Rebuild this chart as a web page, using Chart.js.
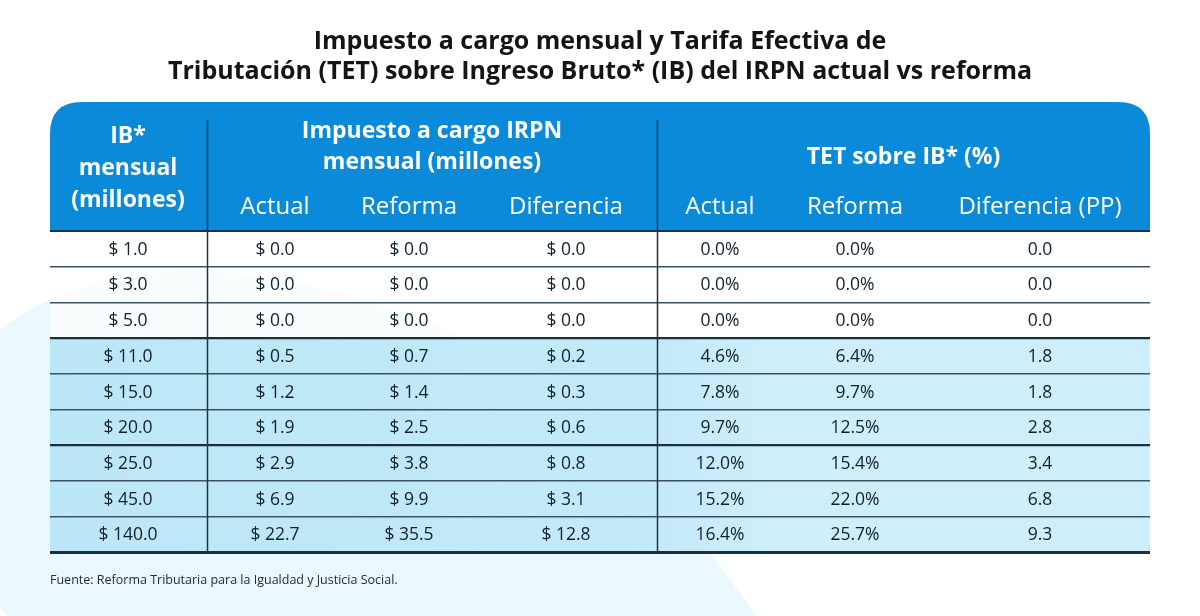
<!DOCTYPE html>
<html lang="es">
<head>
  <meta charset="UTF-8">
  <title>Impuesto a cargo mensual y TET</title>
  <style>
    html, body { margin: 0; padding: 0; background: #ffffff; }
    #tabla { display: block; }
  </style>
</head>
<body>
  <canvas id="tabla" width="1200" height="616"></canvas>
  <script src="https://cdn.jsdelivr.net/npm/chart.js"></script>
  <script>
    // datos de la tabla (millones y %)
    const ibMensual = [1.0, 3.0, 5.0, 11.0, 15.0, 20.0, 25.0, 45.0, 140.0];
    const impActual = [0.0, 0.0, 0.0, 0.5, 1.2, 1.9, 2.9, 6.9, 22.7];
    const impReforma = [0.0, 0.0, 0.0, 0.7, 1.4, 2.5, 3.8, 9.9, 35.5];
    const impDiferencia = [0.0, 0.0, 0.0, 0.2, 0.3, 0.6, 0.8, 3.1, 12.8];
    const tetActual = [0.0, 0.0, 0.0, 4.6, 7.8, 9.7, 12.0, 15.2, 16.4];
    const tetReforma = [0.0, 0.0, 0.0, 6.4, 9.7, 12.5, 15.4, 22.0, 25.7];
    const tetDiferencia = [0.0, 0.0, 0.0, 1.8, 1.8, 2.8, 3.4, 6.8, 9.3];

    const subHeaders = ['Actual', 'Reforma', 'Diferencia', 'Actual', 'Reforma', 'Diferencia (PP)'];
    const fuente = 'Fuente: Reforma Tributaria para la Igualdad y Justicia Social.';

    const peso = v => '$ ' + v.toFixed(1);
    const pct = v => v.toFixed(1) + '%';
    const num = v => v.toFixed(1);

    const columnas = [
      { valores: ibMensual, fmt: peso },
      { valores: impActual, fmt: peso },
      { valores: impReforma, fmt: peso },
      { valores: impDiferencia, fmt: peso },
      { valores: tetActual, fmt: pct },
      { valores: tetReforma, fmt: pct },
      { valores: tetDiferencia, fmt: num }
    ];

    // eje x en "unidades de ancho" de la tabla: 0..1100
    const ANCHO = 1100;
    const centros = [78, 225, 359, 516, 670, 805, 990];
    const divisores = [157, 607];

    const etiquetas = ibMensual.map(peso);
    const sombreada = impActual.map(v => v > 0);

    const FONT = '"Open Sans", "Noto Sans", sans-serif';
    const AZUL = '#0a8ad8';
    const LINEA = '#1c3344';

    const fondo = {
      id: 'fondo',
      beforeDraw(chart) {
        const ctx = chart.ctx;
        ctx.save();
        ctx.fillStyle = '#ffffff';
        ctx.fillRect(0, 0, chart.width, chart.height);
        ctx.fillStyle = '#eaf7fc';
        ctx.beginPath();
        ctx.moveTo(0, 330);
        ctx.bezierCurveTo(60, 282, 150, 262, 250, 275);
        ctx.bezierCurveTo(420, 300, 560, 375, 640, 465);
        ctx.bezierCurveTo(700, 540, 740, 590, 755, 616);
        ctx.lineTo(14, 616);
        ctx.quadraticCurveTo(0, 616, 0, 602);
        ctx.closePath();
        ctx.fill();
        ctx.restore();
      }
    };

    const tabla = {
      id: 'tabla',
      afterDraw(chart) {
        const ctx = chart.ctx;
        const xs = chart.scales.x;
        const ys = chart.scales.y;
        const area = chart.chartArea;
        const top = area.top - 129;
        const r = 32;

        ctx.save();
        // cabecera azul con esquinas superiores redondeadas
        ctx.fillStyle = AZUL;
        ctx.beginPath();
        ctx.moveTo(area.left, area.top);
        ctx.lineTo(area.left, top + r);
        ctx.quadraticCurveTo(area.left, top, area.left + r, top);
        ctx.lineTo(area.right - r, top);
        ctx.quadraticCurveTo(area.right, top, area.right, top + r);
        ctx.lineTo(area.right, area.top);
        ctx.closePath();
        ctx.fill();

        // linea inferior de la cabecera
        ctx.strokeStyle = LINEA;
        ctx.lineWidth = 2;
        ctx.beginPath();
        ctx.moveTo(area.left, area.top);
        ctx.lineTo(area.right, area.top);
        ctx.stroke();

        // divisores verticales
        ctx.lineWidth = 1.5;
        divisores.forEach(d => {
          const x = Math.round(xs.getPixelForValue(d)) + 0.5;
          ctx.beginPath();
          ctx.moveTo(x, top + 18);
          ctx.lineTo(x, area.bottom);
          ctx.stroke();
        });

        ctx.textAlign = 'center';
        ctx.textBaseline = 'middle';
        ctx.fillStyle = '#ffffff';

        ctx.font = 'bold 23px ' + FONT;
        const cIB = xs.getPixelForValue(centros[0]);
        ctx.fillText('IB*', cIB, top + 34);
        ctx.fillText('mensual', cIB, top + 66);
        ctx.fillText('(millones)', cIB, top + 98);

        const cImp = xs.getPixelForValue((divisores[0] + divisores[1]) / 2);
        ctx.fillText('Impuesto a cargo IRPN', cImp, top + 29);
        ctx.fillText('mensual (millones)', cImp, top + 60);

        const cTet = xs.getPixelForValue((divisores[1] + ANCHO) / 2);
        ctx.fillText('TET sobre IB* (%)', cTet, top + 55);

        ctx.font = '24px ' + FONT;
        subHeaders.forEach((h, i) => {
          ctx.fillText(h, xs.getPixelForValue(centros[i + 1]), top + 105);
        });

        // celdas
        ctx.fillStyle = '#10202d';
        ctx.font = '17.5px ' + FONT;
        columnas.forEach((col, c) => {
          const x = xs.getPixelForValue(centros[c]);
          col.valores.forEach((v, i) => {
            ctx.fillText(col.fmt(v), x, ys.getPixelForValue(i) + 1);
          });
        });
        ctx.restore();
      }
    };

    const grosor = ctx => {
      if (ctx.index === undefined) return 3;
      if (ctx.index === 0) return 0;
      return (ctx.index === 3 || ctx.index === 6) ? 2.2 : 1.4;
    };

    const rellenoFila = ctx => {
      if (!sombreada[ctx.dataIndex]) return 'rgba(255, 255, 255, 0.7)';
      const area = ctx.chart.chartArea;
      if (!area) return '#c8ecf9';
      const g = ctx.chart.ctx.createLinearGradient(area.left, 0, area.right, 0);
      g.addColorStop(0, '#bce7f6');
      g.addColorStop(0.55, '#c3eaf8');
      g.addColorStop(0.65, '#cdeefa');
      g.addColorStop(1, '#cdeefa');
      return g;
    };

    new Chart(document.getElementById('tabla'), {
      type: 'bar',
      data: {
        labels: etiquetas,
        datasets: [{
          data: etiquetas.map(() => [0, ANCHO]),
          backgroundColor: rellenoFila,
          borderWidth: 0,
          barPercentage: 1,
          categoryPercentage: 1
        }]
      },
      options: {
        indexAxis: 'y',
        responsive: false,
        animation: false,
        layout: { padding: { left: 50, right: 50, top: 0, bottom: 0 } },
        scales: {
          x: { type: 'linear', min: 0, max: ANCHO, display: false },
          y: {
            type: 'category',
            offset: true,
            ticks: { display: false },
            border: { display: false },
            grid: {
              offset: true,
              z: 1,
              drawTicks: false,
              color: ctx => (ctx.index === undefined || ctx.index === 3 || ctx.index === 6) ? '#18303f' : '#3a5263',
              lineWidth: grosor
            }
          }
        },
        plugins: {
          legend: { display: false },
          tooltip: { enabled: false },
          title: {
            display: true,
            text: ['Impuesto a cargo mensual y Tarifa Efectiva de', 'Tributación (TET) sobre Ingreso Bruto* (IB) del IRPN actual vs reforma'],
            color: '#141414',
            font: { family: FONT, size: 25, weight: 'bold', lineHeight: 1.2 },
            padding: { top: 27, bottom: 144 }
          },
          subtitle: {
            display: true,
            position: 'bottom',
            align: 'start',
            text: fuente,
            color: '#2b2b2b',
            font: { family: FONT, size: 12.5, lineHeight: 1.05 },
            padding: { top: 22, bottom: 28.8 }
          }
        }
      },
      plugins: [fondo, tabla]
    });
  </script>
</body>
</html>
